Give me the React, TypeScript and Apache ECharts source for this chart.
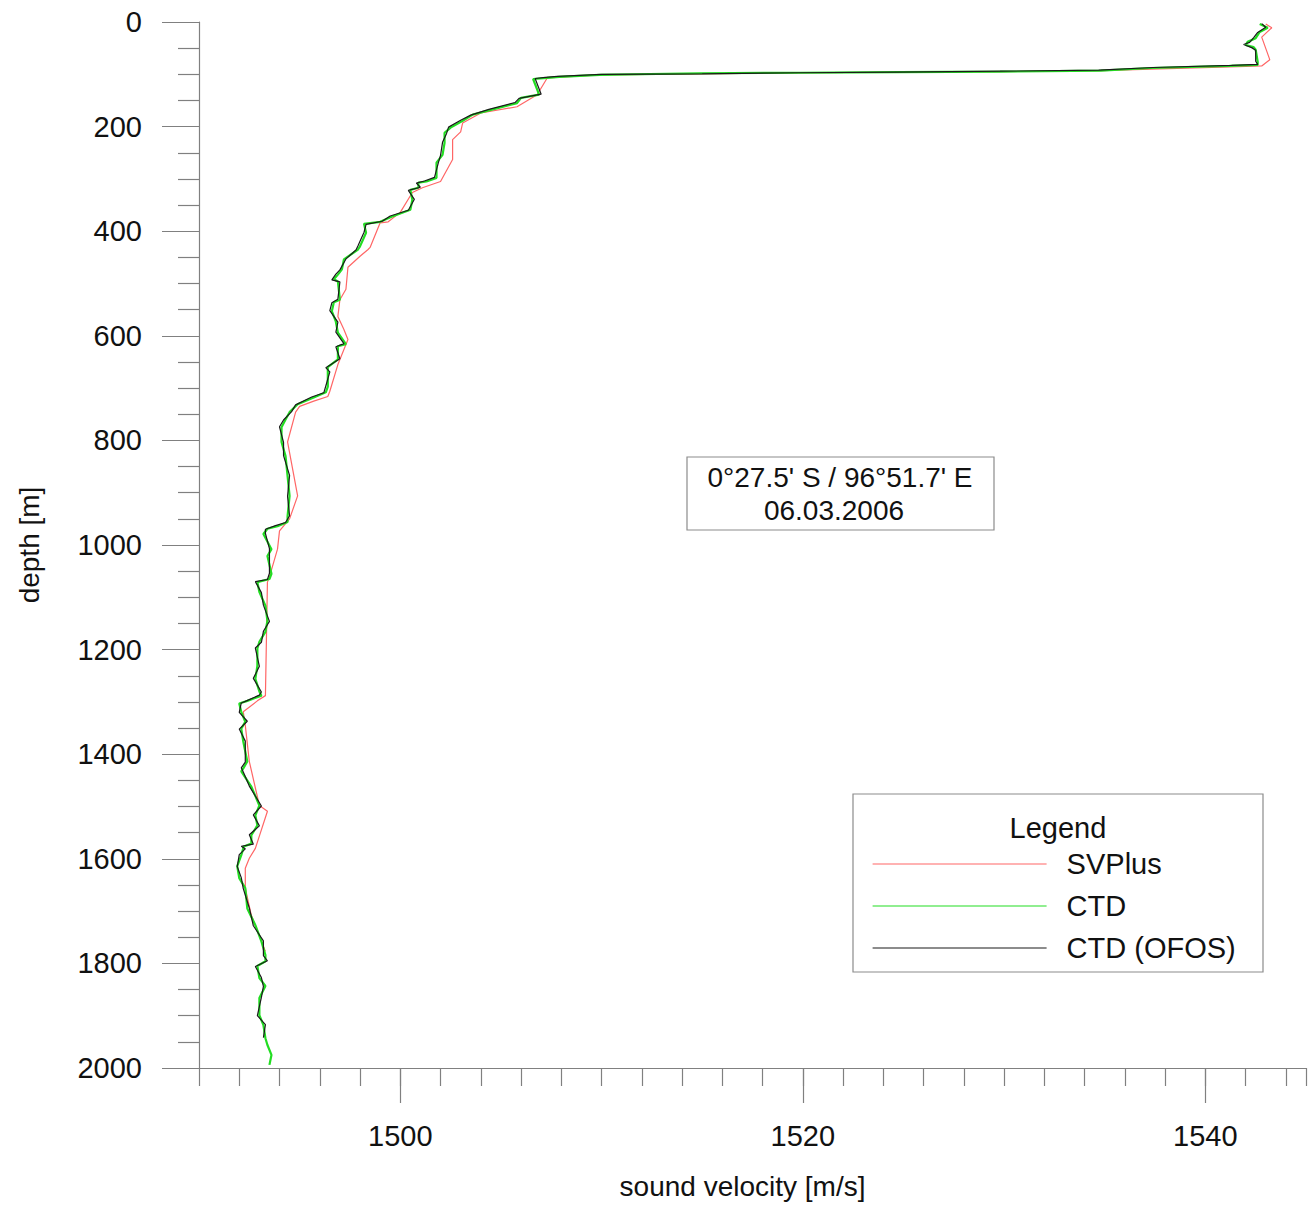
import React, { useEffect, useRef } from "react";
import * as echarts from "echarts";

// CTD profile (sound velocity m/s, depth m)
const ctdVelocity = [
  1542.7, 1543.1, 1542.7, 1542.5, 1542.1, 1542.0, 1542.4, 1542.5, 1542.6, 1542.6,
  1541.2, 1537.3, 1534.8, 1529.8, 1524.8, 1519.9, 1514.9, 1509.9, 1507.9, 1507.3,
  1506.6, 1506.9, 1506.0, 1505.8, 1504.5, 1503.6, 1503.1, 1502.5, 1502.2, 1502.2,
  1502.1, 1501.8, 1501.8, 1501.3, 1500.9, 1500.9, 1500.5, 1500.6, 1500.5, 1499.6,
  1499.0, 1498.2, 1498.3, 1498.0, 1497.9, 1497.2, 1497.1, 1496.9, 1496.7, 1496.9,
  1497.0, 1496.7, 1496.6, 1496.8, 1496.9, 1497.3, 1496.9, 1496.9, 1496.4, 1496.4,
  1496.4, 1496.3, 1495.7, 1494.9, 1494.5, 1494.3, 1494.1, 1494.1, 1494.3, 1494.4,
  1494.5, 1494.4, 1494.4, 1493.9, 1493.4, 1493.2, 1493.6, 1493.4, 1493.6, 1493.5,
  1492.9, 1493.0, 1493.3, 1493.4, 1493.3, 1493.0, 1492.9, 1492.9, 1492.8, 1493.0,
  1493.1, 1492.4, 1492.0, 1492.1, 1492.3, 1492.1, 1492.2, 1492.4, 1492.2, 1492.1,
  1492.6, 1493.0, 1492.8, 1492.9, 1492.6, 1492.6, 1492.2, 1492.2, 1492.1, 1491.9,
  1492.0, 1492.3, 1492.4, 1492.8, 1493.1, 1493.3, 1493.3, 1492.9, 1493.0, 1493.3,
  1493.0, 1493.0, 1493.2, 1493.3, 1493.4, 1493.6, 1493.5,
];
const ctdDepth = [
  4, 11, 19, 31, 38, 44, 48, 53, 76, 82,
  84, 88, 93, 95, 96, 97, 98, 101, 105, 107,
  109, 139, 145, 155, 168, 177, 189, 202, 212, 231,
  254, 269, 298, 305, 307, 317, 321, 340, 359, 372,
  382, 386, 403, 429, 435, 454, 473, 483, 492, 496,
  531, 536, 553, 573, 594, 616, 620, 645, 660, 670,
  697, 708, 718, 731, 746, 760, 775, 803, 830, 868,
  906, 945, 956, 964, 969, 979, 1008, 1021, 1055, 1065,
  1071, 1090, 1116, 1145, 1166, 1185, 1198, 1231, 1256, 1280,
  1288, 1298, 1303, 1319, 1338, 1351, 1376, 1414, 1427, 1433,
  1462, 1498, 1517, 1536, 1555, 1571, 1577, 1580, 1593, 1614,
  1637, 1656, 1695, 1727, 1758, 1784, 1796, 1805, 1828, 1843,
  1866, 1899, 1918, 1943, 1956, 1975, 1994,
];

// CTD (OFOS) profile
const ofosVelocity = [
  1542.8, 1543.0, 1542.6, 1542.4, 1542.2, 1541.9, 1542.3, 1542.5, 1542.5, 1542.6,
  1541.3, 1537.4, 1534.7, 1529.9, 1524.7, 1519.8, 1515.0, 1510.0, 1507.8, 1507.2,
  1506.7, 1507.0, 1505.9, 1505.7, 1504.4, 1503.5, 1503.0, 1502.4, 1502.3, 1502.1,
  1502.0, 1501.9, 1501.7, 1501.2, 1500.8, 1501.0, 1500.4, 1500.7, 1500.4, 1499.5,
  1499.1, 1498.3, 1498.2, 1497.9, 1497.8, 1497.3, 1497.0, 1496.8, 1496.6, 1497.0,
  1496.9, 1496.6, 1496.5, 1496.9, 1496.8, 1497.2, 1496.8, 1497.0, 1496.3, 1496.5,
  1496.3, 1496.2, 1495.6, 1494.8, 1494.6, 1494.2, 1494.0, 1494.2, 1494.2, 1494.5,
  1494.4, 1494.5, 1494.3, 1493.8, 1493.3, 1493.3, 1493.5, 1493.5, 1493.5, 1493.4,
  1492.8, 1493.1, 1493.2, 1493.5, 1493.2, 1493.1, 1492.8, 1493.0, 1492.7, 1493.1,
  1493.0, 1492.3, 1492.1, 1492.0, 1492.4, 1492.0, 1492.3, 1492.3, 1492.1, 1492.2,
  1492.5, 1493.1, 1492.7, 1493.0, 1492.5, 1492.7, 1492.1, 1492.3, 1492.0, 1491.9,
  1492.1, 1492.2, 1492.5, 1492.7, 1493.2, 1493.2, 1493.4, 1492.8, 1493.1, 1493.2,
  1493.1, 1492.9, 1493.3, 1493.2,
];
const ofosDepth = [
  3, 10, 20, 30, 39, 43, 49, 54, 75, 81,
  83, 87, 92, 94, 96, 97, 99, 100, 104, 106,
  108, 138, 146, 154, 167, 178, 188, 201, 213, 230,
  255, 268, 297, 304, 308, 316, 322, 339, 360, 371,
  381, 387, 402, 428, 436, 453, 474, 482, 493, 497,
  530, 537, 552, 574, 593, 615, 621, 644, 661, 669,
  696, 709, 717, 732, 745, 761, 774, 804, 829, 867,
  907, 944, 957, 963, 970, 978, 1007, 1022, 1054, 1066,
  1070, 1091, 1115, 1146, 1165, 1186, 1197, 1232, 1255, 1281,
  1287, 1299, 1302, 1320, 1337, 1352, 1375, 1415, 1426, 1434,
  1461, 1499, 1516, 1537, 1554, 1572, 1576, 1581, 1592, 1615,
  1636, 1657, 1694, 1728, 1757, 1785, 1795, 1806, 1827, 1844,
  1865, 1900, 1917, 1942,
];

// SVPlus profile
const svPlusVelocity = [
  1543.0, 1543.3, 1542.8, 1543.2, 1542.8, 1541.2, 1537.3, 1534.8, 1529.8, 1519.9,
  1509.9, 1507.3, 1506.8, 1505.8, 1504.0, 1503.1, 1503.0, 1502.6, 1502.6, 1502.0,
  1501.1, 1500.6, 1500.0, 1499.4, 1499.0, 1498.5, 1498.4, 1498.0, 1497.4, 1497.3,
  1497.0, 1496.9, 1497.2, 1497.4, 1496.9, 1496.5, 1496.4, 1495.7, 1495.0, 1494.8,
  1494.4, 1494.9, 1494.5, 1494.0, 1493.9, 1493.5, 1493.4, 1493.3, 1492.9, 1492.2,
  1492.3, 1492.5, 1493.0, 1493.4, 1492.8, 1492.5, 1492.3, 1492.3, 1492.6, 1493.3,
];
const svPlusDepth = [
  4, 11, 29, 72, 84, 86, 90, 93, 95, 97,
  101, 107, 139, 162, 174, 193, 210, 225, 263, 305,
  317, 326, 364, 382, 384, 431, 435, 448, 469, 511,
  531, 563, 588, 607, 655, 706, 716, 725, 735, 746,
  803, 906, 950, 973, 1008, 1061, 1071, 1288, 1298, 1319,
  1345, 1414, 1498, 1509, 1580, 1599, 1618, 1656, 1708, 1777,
];

const xLabelValues = [1500, 1520, 1540];
const seriesNames = ["SVPlus", "CTD", "CTD (OFOS)"];
const seriesColors = ["#ff6666", "#22dd22", "#1a1a1a"];
const annotationLines = ["0°27.5' S / 96°51.7' E", "06.03.2006"];

function pairs(v: number[], d: number[]) {
  const n = Math.min(v.length, d.length);
  const out: number[][] = [];
  for (let i = 0; i < n; i++) out.push([v[i], d[i]]);
  return out;
}

export default function App() {
  const ref = useRef<HTMLDivElement>(null);

  useEffect(() => {
    document.body.style.margin = "0";
    if (!ref.current) return;
    const chart = echarts.init(ref.current, null, { renderer: "svg" });
    const font = "'Liberation Sans', Arial, Helvetica, sans-serif";
    const axisColor = "#808080";
    const lineStyle = { color: axisColor, width: 1.2 };

    chart.setOption({
      animation: false,
      backgroundColor: "#ffffff",
      textStyle: { fontFamily: font },
      grid: { left: 199, top: 22, width: 1107, height: 1048 },
      xAxis: [
        {
          type: "value",
          min: 1490,
          max: 1545,
          interval: 2,
          position: "bottom",
          axisLine: { show: true, onZero: false, lineStyle },
          axisTick: { show: true, length: 18, lineStyle },
          axisLabel: {
            formatter: (v: number) =>
              xLabelValues.indexOf(Math.round(v)) >= 0 && Math.abs(v - Math.round(v)) < 1e-6 ? String(Math.round(v)) : "",
            fontSize: 29,
            color: "#111",
            margin: 53,
            fontFamily: font,
          },
          splitLine: { show: false },
          name: "sound velocity [m/s]",
          nameLocation: "middle",
          nameGap: 104,
          nameTextStyle: { fontSize: 28, color: "#111", fontFamily: font, padding: [0, 20, 0, 0] },
        },
        {
          type: "value",
          min: 1490,
          max: 1545,
          position: "bottom",
          axisLine: { show: false, onZero: false },
          axisTick: { show: true, length: 35, lineStyle, customValues: xLabelValues },
          axisLabel: { show: false },
          splitLine: { show: false },
        },
      ],
      yAxis: {
        type: "value",
        inverse: true,
        min: 0,
        max: 2000,
        interval: 200,
        axisLine: { show: true, onZero: false, lineStyle },
        axisTick: { show: true, length: 37, lineStyle },
        minorTick: { show: true, splitNumber: 4, length: 21, lineStyle },
        axisLabel: { fontSize: 29, color: "#111", margin: 57, fontFamily: font, formatter: (v: number) => String(v) },
        splitLine: { show: false },
        minorSplitLine: { show: false },
        name: "depth [m]",
        nameLocation: "middle",
        nameGap: 156,
        nameTextStyle: { fontSize: 28, color: "#111", fontFamily: font },
      },
      legend: {
        data: seriesNames,
        orient: "vertical",
        left: 872,
        top: 849,
        padding: 0,
        itemWidth: 174,
        itemHeight: 14,
        itemGap: 12,
        selectedMode: false,
        itemStyle: { opacity: 0 },
        lineStyle: { width: 1.2 },
        textStyle: { fontSize: 29, color: "#111", lineHeight: 30, fontFamily: font, padding: [0, 0, 0, 15] },
      },
      graphic: [
        {
          type: "rect",
          shape: { x: 687, y: 457, width: 307, height: 73 },
          style: { fill: "transparent", stroke: "#8c8c8c", lineWidth: 1.2 },
          z: 1,
        },
        {
          type: "text",
          x: 840,
          y: 477,
          style: { text: annotationLines[0], fontSize: 28, fontFamily: font, fill: "#111", align: "center", verticalAlign: "middle" },
          z: 2,
        },
        {
          type: "text",
          x: 834,
          y: 510,
          style: { text: annotationLines[1], fontSize: 28, fontFamily: font, fill: "#111", align: "center", verticalAlign: "middle" },
          z: 2,
        },
        {
          type: "rect",
          shape: { x: 853, y: 794, width: 410, height: 178 },
          style: { fill: "transparent", stroke: "#8c8c8c", lineWidth: 1.2 },
          z: 1,
        },
        {
          type: "text",
          x: 1058,
          y: 828,
          style: { text: "Legend", fontSize: 29, fontFamily: font, fill: "#111", align: "center", verticalAlign: "middle" },
          z: 2,
        },
      ],
      series: [
        {
          name: seriesNames[0],
          type: "line",
          data: pairs(svPlusVelocity, svPlusDepth),
          symbol: "none",
          lineStyle: { color: seriesColors[0], width: 1.2 },
          itemStyle: { color: seriesColors[0] },
          z: 2,
        },
        {
          name: seriesNames[1],
          type: "line",
          data: pairs(ctdVelocity, ctdDepth),
          symbol: "none",
          lineStyle: { color: seriesColors[1], width: 2.2 },
          itemStyle: { color: seriesColors[1] },
          z: 3,
        },
        {
          name: seriesNames[2],
          type: "line",
          data: pairs(ofosVelocity, ofosDepth),
          symbol: "none",
          lineStyle: { color: seriesColors[2], width: 1.2 },
          itemStyle: { color: seriesColors[2] },
          z: 4,
        },
      ],
    });

    return () => chart.dispose();
  }, []);

  return <div ref={ref} style={{ width: 1314, height: 1205 }} />;
}
